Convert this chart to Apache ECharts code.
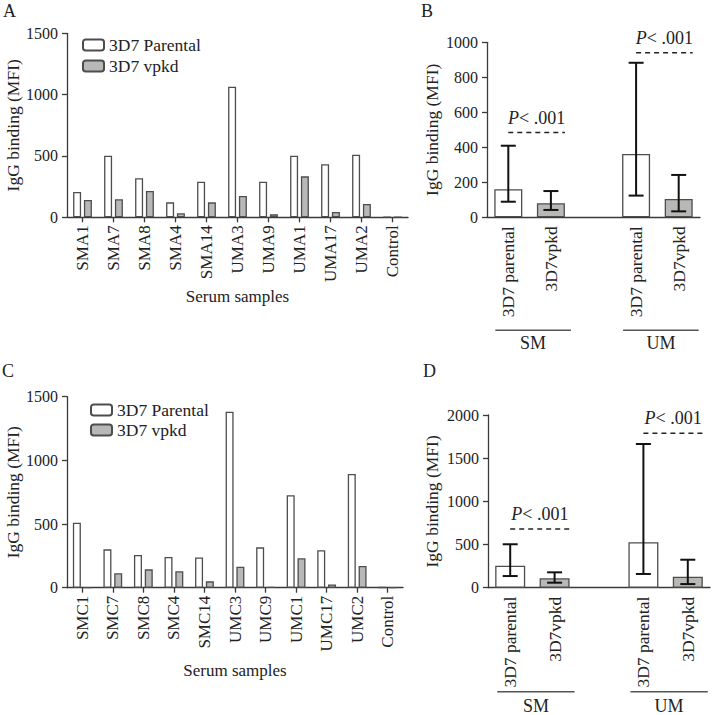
<!DOCTYPE html>
<html><head><meta charset="utf-8">
<script src="https://cdn.jsdelivr.net/npm/echarts@6.0.0/dist/echarts.min.js"></script>
<style>html,body{margin:0;padding:0;background:#fff}#c{width:712px;height:715px}</style>
</head><body><div id="c"></div>
<script>
// ---- data ----
const samplesA = ['SMA1','SMA7','SMA8','SMA4','SMA14','UMA3','UMA9','UMA1','UMA17','UMA2','Control'];
const parentalA = [206, 502, 318, 122, 290, 1065, 290, 502, 432, 510, 3];
const vpkdA = [141, 147, 214, 33, 122, 174, 24, 334, 43, 108, 2];
const samplesC = ['SMC1','SMC7','SMC8','SMC4','SMC14','UMC3','UMC9','UMC1','UMC17','UMC2','Control'];
const parentalC = [510, 301, 257, 241, 237, 1382, 317, 726, 294, 893, 3];
const vpkdC = [0, 113, 144, 129, 50, 165, 6, 231, 26, 170, 2];
const barLabelsBD = ['3D7 parental', '3D7vpkd', '', '3D7 parental', '3D7vpkd'];
const medianB = [160, 80, null, 362, 105];
const lowB = [89, 42, null, 124, 34];
const highB = [409, 150, null, 883, 242];
const medianD = [255, 109, null, 526, 127];
const lowD = [135, 58, null, 159, 42];
const highD = [503, 178, null, 1664, 324];
const groupNames = ['SM', 'UM'];
const groupStart = [0, 3];
const groupEnd = [1, 4];
const pLevelB = [484, 940];
const pLevelD = [680, 1788];
const pItalic = ['P', 'P'];
const pRest = ['< .001', '< .001'];
const seriesNames = ['3D7 Parental', '3D7 vpkd'];

// ---- style ----
const FONT = "'Liberation Serif', 'DejaVu Serif', serif";
const TXT = '#222';
const AX = '#3a3a3a';
const WHITE = '#ffffff';
const GRAY = '#b8b8b6';
const BORDER = '#4d4d4d';

const chart = echarts.init(document.getElementById('c'), null, {renderer: 'svg'});

function yAxisCfg(gridIndex, max, interval, nameGap) {
  return {
    type: 'value', gridIndex, min: 0, max, interval,
    name: 'IgG binding (MFI)', nameLocation: 'middle', nameGap,
    nameTextStyle: {fontFamily: FONT, fontSize: 17.5, color: TXT},
    axisLine: {show: true, lineStyle: {color: AX, width: 1.3}},
    axisTick: {show: true, length: 5, lineStyle: {color: AX, width: 1.3}},
    axisLabel: {fontFamily: FONT, fontSize: 16, color: TXT, margin: 9, formatter: v => String(v)},
    splitLine: {show: false}
  };
}
function xCatCfg(gridIndex, data, nameGap) {
  return {
    type: 'category', gridIndex, data,
    name: 'Serum samples', nameLocation: 'middle', nameGap,
    nameTextStyle: {fontFamily: FONT, fontSize: 17, color: TXT},
    axisLine: {show: true, lineStyle: {color: AX, width: 1.3}},
    axisTick: {show: true, alignWithLabel: true, length: 5, lineStyle: {color: AX, width: 1.3}},
    axisLabel: {rotate: 90, fontFamily: FONT, fontSize: 17, color: TXT, margin: 8, interval: 0},
    splitLine: {show: false}
  };
}
function xGroupCfg(gridIndex) {
  return {
    type: 'category', gridIndex, data: barLabelsBD.map((v, i) => String(i)),
    axisLine: {show: true, lineStyle: {color: AX, width: 1.3}},
    axisTick: {show: false},
    axisLabel: {rotate: 90, fontFamily: FONT, fontSize: 17.5, color: TXT, margin: 9, interval: 0,
      formatter: (v, i) => barLabelsBD[i]},
    splitLine: {show: false}
  };
}

function barsBD(values, axisIdx, bw) {
  return {
    type: 'bar', xAxisIndex: axisIdx, yAxisIndex: axisIdx, barWidth: bw,
    data: values.map((v, i) => v == null ? null : {
      value: v,
      itemStyle: {color: barLabelsBD[i].indexOf('parental') >= 0 ? WHITE : GRAY, borderColor: BORDER, borderWidth: 1.3}
    }),
    z: 2
  };
}
function errBD(lows, highs, axisIdx) {
  const data = [];
  lows.forEach((l, i) => { if (l != null) data.push([i, l, highs[i]]); });
  return {
    type: 'custom', xAxisIndex: axisIdx, yAxisIndex: axisIdx, z: 5,
    encode: {x: 0, y: [1, 2]},
    renderItem: function (params, api) {
      const x = api.value(0);
      const a = api.coord([x, api.value(1)]);
      const b = api.coord([x, api.value(2)]);
      const hw = 7.5;
      const st = {stroke: '#111', lineWidth: 2};
      return {type: 'group', children: [
        {type: 'line', shape: {x1: a[0], y1: a[1], x2: b[0], y2: b[1]}, style: st},
        {type: 'line', shape: {x1: a[0] - hw, y1: a[1], x2: a[0] + hw, y2: a[1]}, style: st},
        {type: 'line', shape: {x1: b[0] - hw, y1: b[1], x2: b[0] + hw, y2: b[1]}, style: st}
      ]};
    },
    data
  };
}
function pAnnot(levels, axisIdx, bw) {
  return {
    type: 'custom', xAxisIndex: axisIdx, yAxisIndex: axisIdx, z: 6, clip: false,
    renderItem: function (params, api) {
      const i = params.dataIndex;
      const s = api.coord([groupStart[i], levels[i]]);
      const e = api.coord([groupEnd[i], levels[i]]);
      const x1 = s[0], x2 = e[0] + bw / 2;
      return {type: 'group', children: [
        {type: 'line', shape: {x1, y1: s[1], x2, y2: s[1]},
          style: {stroke: '#222', lineWidth: 1.5, lineDash: [5, 4]}},
        {type: 'text', x: (x1 + x2) / 2, y: s[1] - 15,
          style: {text: '{i|' + pItalic[i] + '}' + pRest[i],
            rich: {i: {fontStyle: 'italic', fontFamily: FONT, fontSize: 18, fill: TXT}},
            fontFamily: FONT, fontSize: 18, fill: TXT, align: 'center', verticalAlign: 'middle'}}
      ]};
    },
    data: levels.map((v, i) => [groupStart[i], v])
  };
}
function groupLines(axisIdx, lineOff, textOff, padL, padR) {
  return {
    type: 'custom', xAxisIndex: axisIdx, yAxisIndex: axisIdx, z: 6, clip: false,
    renderItem: function (params, api) {
      const i = params.dataIndex;
      const s = api.coord([groupStart[i], 0]);
      const e = api.coord([groupEnd[i], 0]);
      const x1 = s[0] - padL, x2 = e[0] + padR;
      return {type: 'group', children: [
        {type: 'line', shape: {x1, y1: s[1] + lineOff, x2, y2: s[1] + lineOff}, style: {stroke: '#555', lineWidth: 1.5}},
        {type: 'text', x: (x1 + x2) / 2, y: s[1] + textOff,
          style: {text: groupNames[i], fontFamily: FONT, fontSize: 18, fill: TXT, align: 'center', verticalAlign: 'middle'}}
      ]};
    },
    data: groupNames.map((g, i) => [groupStart[i], 0])
  };
}
function letter(t, left, top) {
  return {type: 'text', left, top, style: {text: t, fontFamily: FONT, fontSize: 18, fill: TXT}};
}

const barStyleP = {color: WHITE, borderColor: BORDER, borderWidth: 1.3};
const barStyleV = {color: GRAY, borderColor: BORDER, borderWidth: 1.3};

chart.setOption({
  animation: false,
  backgroundColor: '#fff',
  textStyle: {fontFamily: FONT},
  grid: [
    {left: 67, top: 33.3, width: 341, height: 184},
    {left: 487, top: 42.3, width: 213, height: 175},
    {left: 67, top: 396.7, width: 336, height: 191},
    {left: 488, top: 415, width: 222, height: 172.7}
  ],
  legend: [
    {orient: 'vertical', left: 77, top: 31, itemWidth: 21, itemHeight: 11, itemGap: 3,
      data: seriesNames, textStyle: {fontFamily: FONT, fontSize: 17.5, color: TXT}, selectedMode: false},
    {orient: 'vertical', left: 85, top: 396, itemWidth: 21, itemHeight: 11, itemGap: 2,
      data: seriesNames, textStyle: {fontFamily: FONT, fontSize: 17.5, color: TXT}, selectedMode: false}
  ],
  xAxis: [
    xCatCfg(0, samplesA, 71),
    xGroupCfg(1),
    xCatCfg(2, samplesC, 74),
    xGroupCfg(3)
  ],
  yAxis: [
    yAxisCfg(0, 1500, 500, 43),
    yAxisCfg(1, 1000, 200, 46),
    yAxisCfg(2, 1500, 500, 43),
    yAxisCfg(3, 2000, 500, 47)
  ],
  graphic: [letter('A', 3, 2), letter('B', 421, 2), letter('C', 2, 362), letter('D', 423, 362)],
  series: [
    {name: seriesNames[0], type: 'bar', xAxisIndex: 0, yAxisIndex: 0, barWidth: 8, barGap: '35%', data: parentalA, itemStyle: barStyleP},
    {name: seriesNames[1], type: 'bar', xAxisIndex: 0, yAxisIndex: 0, barWidth: 8, barGap: '35%', data: vpkdA, itemStyle: barStyleV},
    {name: seriesNames[0], type: 'bar', xAxisIndex: 2, yAxisIndex: 2, barWidth: 8, barGap: '35%', data: parentalC, itemStyle: barStyleP},
    {name: seriesNames[1], type: 'bar', xAxisIndex: 2, yAxisIndex: 2, barWidth: 8, barGap: '35%', data: vpkdC, itemStyle: barStyleV},
    barsBD(medianB, 1, 28),
    errBD(lowB, highB, 1),
    pAnnot(pLevelB, 1, 28),
    groupLines(1, 113, 126, 13, 20),
    barsBD(medianD, 3, 30),
    errBD(lowD, highD, 3),
    pAnnot(pLevelD, 3, 30),
    groupLines(3, 104, 118, 13, 20)
  ]
});
</script>
</body></html>
